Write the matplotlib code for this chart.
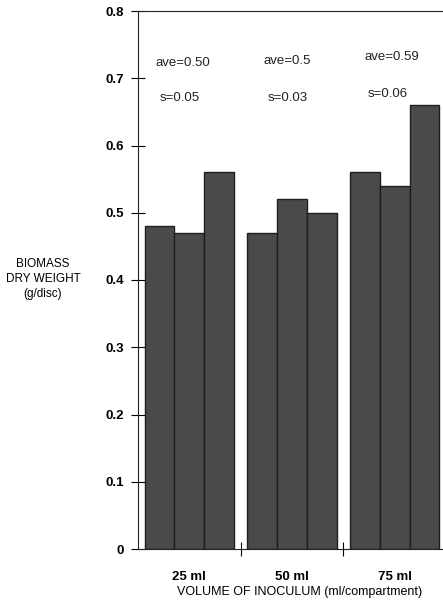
import matplotlib
matplotlib.use("Agg")
import matplotlib.pyplot as plt
import numpy as np

plt.rcParams['font.family'] = ['Liberation Sans', 'DejaVu Sans']

groups = ["25 ml", "50 ml", "75 ml"]
# three replicate discs per inoculum volume
replicates = [
    [0.48, 0.47, 0.56],
    [0.47, 0.52, 0.50],
    [0.56, 0.54, 0.66],
]
ave_labels = ["ave=0.50", "ave=0.5", "ave=0.59"]
sd_labels = ["s=0.05", "s=0.03", "s=0.06"]
yticks = [0, 0.1, 0.2, 0.3, 0.4, 0.5, 0.6, 0.7, 0.8]

W, H = 443, 605
fig = plt.figure(figsize=(W / 100, H / 100), dpi=100)
left, right, bottom, top = 138, 446, 549, 11
ax = fig.add_axes([left / W, 1 - bottom / H, (right - left) / W, (bottom - top) / H])

bw = 0.29
for g, vals in enumerate(replicates):
    xs = g + 0.5 + (np.arange(3) - 1) * bw
    ax.bar(xs, vals, width=bw, color="#4a4a4a", edgecolor="#1e1e1e", linewidth=1.0)

ax.set_xlim(0, 3)
ax.set_ylim(0, 0.8)

ax.set_yticks(yticks)
ax.set_yticklabels(["0"] + [f"{t:.1f}" for t in yticks[1:]], fontsize=9.5, fontweight="bold")
ax.tick_params(axis="y", direction="inout", length=10, width=0.8, pad=5)

ax.set_xticks([1, 2])
ax.set_xticklabels([])
ax.tick_params(axis="x", direction="inout", length=10, width=0.8)
for g, name in enumerate(groups):
    ax.text(g + 0.5, -0.041, name, ha="center", va="center", fontsize=9.5, fontweight="bold",
            clip_on=False)

fig.text(300 / W, 1 - 592 / H, "VOLUME OF INOCULUM (ml/compartment)", ha="center", va="center",
         fontsize=9)

fig.text(43 / W, 1 - 279 / H, "BIOMASS\nDRY WEIGHT\n(g/disc)", ha="center", va="center",
         fontsize=8.5, linespacing=1.35)

ave_pos = [(0.437, 0.723), (1.456, 0.725), (2.47, 0.731)]
sd_pos = [(0.41, 0.671), (1.456, 0.671), (2.43, 0.676)]
for (x, y), s in zip(ave_pos, ave_labels):
    ax.text(x, y, s, ha="center", va="center", fontsize=9.5, color="#222222")
for (x, y), s in zip(sd_pos, sd_labels):
    ax.text(x, y, s, ha="center", va="center", fontsize=9.5, color="#222222")

for sp in ax.spines.values():
    sp.set_linewidth(0.8)
    sp.set_color("#222222")

fig.savefig("out.png", dpi=100)
